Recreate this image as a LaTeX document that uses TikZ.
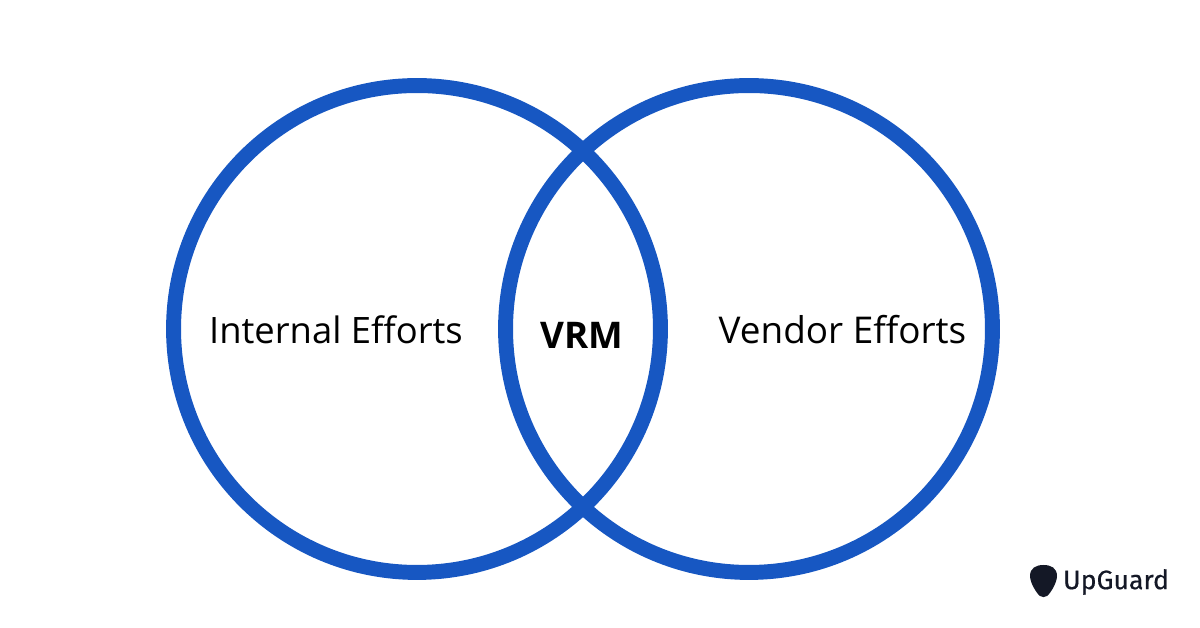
\documentclass[tikz,border=0pt]{standalone}
\usepackage{fontspec}
\setmainfont{Open Sans}
\newfontfamily\logofont[FakeBold=0.4]{Fira Sans}
\definecolor{vennblue}{HTML}{1757C2}
\definecolor{logoink}{HTML}{141826}
\tikzset{
  venn/.style={draw=vennblue,line width=8.5pt,circle,minimum size=9.74cm,inner sep=0pt},
  effort/.style={font=\fontsize{20.7pt}{24pt}\selectfont,text=black,inner sep=0pt},
}
\begin{document}
\begin{tikzpicture}[x=0.02cm,y=0.02cm]

\useasboundingbox (0,0) rectangle (1200,628);

\node [venn] (internal) at (417,299) {};
\node [venn] (vendor) at (749,299) {};

\node [effort] (internallabel) at (336,298) {Internal Efforts};
\node [effort,font=\fontsize{21pt}{24pt}\selectfont] (vendorlabel) at (842.5,298) {Vendor Efforts};
\node [effort,font=\fontsize{20.9pt}{24pt}\selectfont\bfseries] (vrm) at (582,293) {VRM};

% logo
\fill[logoink] (1030,52) .. controls (1030,60) and (1036,63) .. (1043.5,63) .. controls (1051,63) and (1057,60) .. (1057,52) .. controls (1057,45) and (1050,34) .. (1047,32) .. controls (1045,30.5) and (1042,30.5) .. (1040,32) .. controls (1037,34) and (1030,45) .. (1030,52) -- cycle;
\node [font=\logofont\fontsize{15.2pt}{18pt}\selectfont,text=logoink,inner sep=0pt] (logo) at (1116,46) {UpGuard};

\end{tikzpicture}
\end{document}
